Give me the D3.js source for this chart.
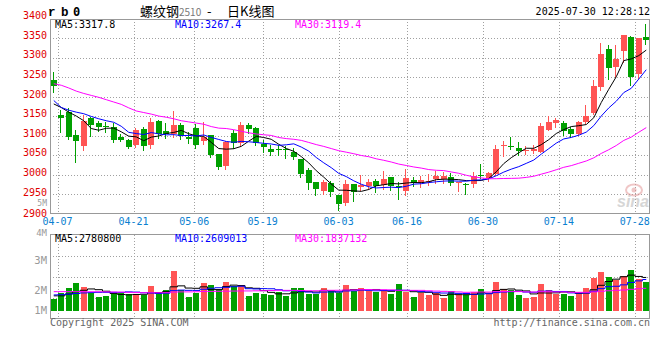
<!DOCTYPE html>
<html><head><meta charset="utf-8">
<script src="https://cdn.jsdelivr.net/npm/d3@7"></script>
<style>html,body{margin:0;padding:0;background:#fff;}svg{display:block;}</style>
</head><body>
<svg id="c" width="660" height="360"></svg>
<script>
// ---------------- data ----------------
const dates = ['04-03',
 '04-07','04-08','04-09','04-10','04-11','04-14','04-15','04-16','04-17','04-18',
 '04-21','04-22','04-23','04-24','04-25','04-28','04-29','04-30',
 '05-06','05-07','05-08','05-09','05-12','05-13','05-14','05-15','05-16',
 '05-19','05-20','05-21','05-22','05-23','05-26','05-27','05-28','05-29','05-30',
 '06-03','06-04','06-05','06-06','06-09','06-10','06-11','06-12','06-13',
 '06-16','06-17','06-18','06-19','06-20','06-23','06-24','06-25','06-26','06-27',
 '06-30','07-01','07-02','07-03','07-04','07-07','07-08','07-09','07-10','07-11',
 '07-14','07-15','07-16','07-17','07-18','07-21','07-22','07-23','07-24','07-25',
 '07-28','07-29','07-30'];
const tickDates = ['04-07','04-21','05-06','05-19','06-03','06-16','06-30','07-14','07-28'];
const priceTicks = [3400,3350,3300,3250,3200,3150,3100,3050,3000,2950,2900];
const volTickValues = [5,4,3,2,1];
const volTickLabels = ['5M','4M','3M','2M','1M'];

const open = [3242,3152,3160,3102,3073,3144,3131,3124,3122,3095,
 3088,3076,3118,3076,3137,3112,3105,3127,3097,3119,
 3086,3101,3052,3023,3107,3081,3127,3120,3078,3066,
 3065,3065,3058,3039,3011,2980,2957,2978,2947,2927,
 2975,2968,2971,2983,2972,2993,2971,2958,2986,2978,
 2982,2989,2989,2993,2979,2976,2975,2999,2992,3001,
 3075,3073,3069,3060,3061,3059,3114,3133,3133,3117,
 3104,3134,3157,3225,3321,3276,3317,3354,3257,3353];
const high = [3263,3165,3170,3114,3152,3148,3137,3136,3131,3105,
 3090,3119,3123,3146,3140,3133,3163,3131,3108,3129,
 3135,3102,3052,3085,3113,3135,3133,3121,3088,3077,
 3076,3074,3068,3040,3018,2981,2986,2984,2947,2987,
 2976,3000,2988,2989,3009,2994,2980,3013,2993,2996,
 3001,3009,3007,3005,2982,2978,3007,3026,3006,3075,
 3086,3095,3084,3074,3077,3133,3150,3144,3137,3123,
 3137,3178,3242,3337,3331,3331,3359,3355,3351,3385];
const low = [3211,3110,3090,3031,3064,3099,3112,3110,3084,3086,
 3068,3070,3063,3067,3093,3093,3095,3091,3082,3068,
 3078,3045,3015,3013,3067,3072,3106,3075,3058,3050,
 3050,3043,3041,2993,2964,2947,2949,2944,2909,2921,
 2933,2960,2962,2955,2964,2961,2937,2948,2971,2969,
 2974,2978,2979,2974,2959,2951,2969,2990,2983,2998,
 3048,3065,3050,3052,3054,3058,3113,3123,3101,3095,
 3102,3133,3154,3216,3246,3249,3289,3229,3248,3334];
const close = [3227,3144,3097,3085,3137,3127,3122,3122,3088,3089,
 3071,3113,3072,3135,3103,3103,3127,3098,3092,3075,
 3097,3050,3019,3084,3081,3127,3117,3080,3070,3058,
 3063,3063,3044,3002,2977,2963,2980,2956,2924,2975,
 2955,2974,2980,2971,2989,2971,2969,2991,2978,2986,
 2984,2995,2997,2978,2980,2972,2995,2998,3004,3066,
 3077,3071,3061,3062,3065,3124,3135,3140,3112,3104,
 3135,3150,3227,3308,3273,3296,3357,3249,3350,3344];
const ma5 = [3181,3172,3160,3150,3138,3118,3113.6,3118.6,3119.2,3109.6,
 3098.4,3096.6,3086.6,3096,3098.8,3105.2,3108,3113.2,3104.6,3099,
 3097.8,3082.4,3066.6,3065,3066.2,3072.2,3085.6,3097.8,3095,3090.4,
 3077.6,3066.8,3059.6,3046,3029.8,3009.8,2993.2,2975.6,2960,2959.6,
 2958,2956.8,2961.6,2971,2973.8,2977,2976,2978.2,2979.6,2979,
 2981.6,2986.8,2988,2988,2986.8,2984.4,2984.4,2984.6,2989.8,3007,
 3028,3043.2,3055.8,3067.4,3067.2,3076.6,3089.4,3105.2,3115.2,3123,
 3125.2,3128.2,3145.6,3184.8,3218.6,3250.8,3292.2,3296.6,3305,3319.2];
const ma10 = [3190,3172,3165,3160,3156,3149,3143,3138,3134,3123.8,
 3108.2,3105.1,3102.6,3107.6,3104.2,3101.8,3102.3,3099.9,3100.3,3098.9,
 3101.5,3095.2,3089.9,3084.8,3082.6,3085,3084,3082.2,3080,3078.3,
 3074.9,3076.2,3078.7,3070.5,3060.1,3043.7,3030,3017.6,3003,2994.7,
 2983.9,2975,2968.6,2965.5,2966.7,2967.5,2966.4,2969.9,2975.3,2976.4,
 2979.3,2981.4,2983.1,2983.8,2982.9,2983,2985.6,2986.3,2988.9,2996.9,
 3006.2,3013.8,3020.2,3028.6,3037.1,3052.3,3066.3,3080.5,3091.3,3095.1,
 3100.9,3108.8,3125.4,3150,3170.8,3188,3210.2,3221.1,3244.9,3268.9];
const ma30 = [3233,3229,3222,3214,3208,3203,3198,3192,3186,3180,
 3171,3163,3159,3155,3150,3147,3143,3138,3135,3132,
 3129,3123,3119,3118,3115,3111,3107,3104,3102,3100.3,
 3094.9,3092.2,3090.4,3087.6,3082.3,3076.8,3072.1,3066.6,3061.1,3057.3,
 3053.4,3048.8,3045.7,3040.3,3036.5,3032.1,3026.8,3023.2,3019.4,3016.5,
 3012.7,3010.9,3010.1,3006.6,3003.2,2998.1,2994,2991.3,2989.1,2989.3,
 2989.8,2990.1,2990.6,2992.6,2995.6,3000.9,3006.1,3012.2,3018.5,3022.8,
 3028.8,3034.7,3042.9,3054.1,3063.6,3074.4,3087.4,3096,3108.4,3120.3];
// volume in millions
const volume = [1.00,1.52,1.95,2.38,2.03,1.58,1.20,1.29,1.43,1.58,
 1.43,1.35,1.37,2.14,1.63,1.80,3.43,1.78,1.20,1.52,
 2.43,2.23,1.80,2.49,2.14,2.23,1.29,1.58,1.49,1.40,
 1.60,1.30,1.95,2.00,1.45,1.45,2.00,1.72,1.52,2.20,
 1.72,1.95,1.72,1.63,1.72,1.43,2.29,1.63,1.20,1.52,
 1.37,1.52,1.09,1.69,1.35,1.35,1.63,1.86,1.43,2.49,
 1.86,1.80,1.37,1.09,1.20,2.29,1.78,1.43,1.43,1.29,
 1.63,1.95,2.80,3.35,2.92,2.63,3.00,3.49,2.78,2.49];
const volMa5 = [1.30,1.30,1.45,1.65,1.776,1.892,1.828,1.696,1.506,1.416,
 1.386,1.416,1.432,1.574,1.584,1.658,2.074,2.156,1.968,1.946,
 2.072,1.832,1.836,2.094,2.218,2.178,1.99,1.946,1.746,1.598,
 1.472,1.474,1.548,1.65,1.66,1.63,1.77,1.724,1.628,1.778,
 1.832,1.822,1.822,1.844,1.748,1.69,1.758,1.74,1.654,1.614,
 1.602,1.448,1.34,1.438,1.404,1.40,1.422,1.576,1.524,1.752,
 1.854,1.888,1.79,1.722,1.464,1.55,1.546,1.558,1.626,1.644,
 1.512,1.546,1.82,2.204,2.53,2.73,2.94,3.078,2.964,2.878];
const volMa10 = [1.38,1.40,1.45,1.50,1.55,1.58,1.60,1.60,1.60,1.596,
 1.639,1.622,1.564,1.54,1.50,1.522,1.745,1.794,1.771,1.765,
 1.865,1.953,1.996,2.031,2.082,2.125,1.911,1.891,1.92,1.908,
 1.825,1.732,1.747,1.698,1.629,1.551,1.622,1.636,1.639,1.719,
 1.731,1.796,1.773,1.736,1.763,1.761,1.79,1.781,1.749,1.681,
 1.646,1.603,1.54,1.546,1.509,1.501,1.435,1.458,1.481,1.578,
 1.627,1.655,1.683,1.623,1.608,1.702,1.717,1.674,1.674,1.554,
 1.531,1.546,1.689,1.915,2.087,2.121,2.243,2.449,2.584,2.704];
const volMa30 = [1.66,1.66,1.66,1.66,1.66,1.65,1.65,1.64,1.63,1.62,
 1.60,1.58,1.57,1.57,1.57,1.57,1.62,1.64,1.64,1.65,
 1.67,1.68,1.69,1.70,1.71,1.72,1.72,1.73,1.74,1.756,
 1.776,1.769,1.769,1.756,1.737,1.733,1.759,1.774,1.777,1.797,
 1.807,1.827,1.839,1.822,1.825,1.812,1.774,1.769,1.769,1.769,
 1.734,1.710,1.687,1.66,1.634,1.604,1.616,1.625,1.623,1.659,
 1.668,1.685,1.665,1.635,1.627,1.655,1.647,1.638,1.635,1.604,
 1.601,1.601,1.637,1.695,1.735,1.775,1.798,1.860,1.913,1.945];

const priceMaLabels = ['MA5:3317.8','MA10:3267.4','MA30:3119.4'];
const volMaLabels = ['MA5:2780800','MA10:2609013','MA30:1837132'];

// ---------------- drawing ----------------
const RED = '#ff5454', GREEN = '#00a000', GRID = '#a0a0a0', FRAME = '#999999';
const MA_COLORS = ['#000000', '#0000ff', '#ff00ff'];
const mono = "'DejaVu Sans Mono', monospace";
const svg = d3.select('#c');
svg.append('rect').attr('width', 660).attr('height', 360).attr('fill', '#fff');

const L = 50, R = 650;
const PT = 19, PB = 213.5;
const VT = 234.5, VB = 318.5;

const xBand = d3.scaleBand().domain(dates).range([L, R]).paddingInner(0.2).paddingOuter(0.1);
const xGrid = d3.scalePoint().domain(dates).range([L, R]);
const y = d3.scaleLinear().domain([2900, 3400]).range([PB, 18.6]);
const yLab = d3.scaleLinear().domain([2900, 2950, 3400]).range([217.2, 195.6, 19.2]);
const yV = d3.scaleLinear().domain([0, 1]).range([311, 311 - 11.66]);
const yVLabel = d3.scaleLinear().domain([1, 2, 3, 4, 5]).range([314.2, 294, 263.9, 235.5, 205.6]);
const vGrid = d3.scaleLinear().domain([0, 4]).range([VB, VT]);
const bw = Math.round(xBand.bandwidth());
const cx = d => Math.round(xBand(d));
const snap = v => Math.round(v) + 0.5;

// grid
const g = svg.append('g').attr('stroke', GRID).attr('stroke-dasharray', '1,2').attr('shape-rendering', 'crispEdges');
g.selectAll('.hp').data(priceTicks.filter(t => t > 2900 && t < 3400)).join('line')
  .attr('x1', L).attr('x2', R).attr('y1', d => snap(y(d))).attr('y2', d => snap(y(d)));
g.selectAll('.vp').data(tickDates).join('line')
  .attr('x1', d => snap(xGrid(d))).attr('x2', d => snap(xGrid(d))).attr('y1', PT).attr('y2', PB);
g.selectAll('.hv').data([1, 2, 3]).join('line')
  .attr('x1', L).attr('x2', R).attr('y1', d => snap(vGrid(d))).attr('y2', d => snap(vGrid(d)));
g.selectAll('.vv').data(tickDates).join('line')
  .attr('x1', d => snap(xGrid(d))).attr('x2', d => snap(xGrid(d))).attr('y1', VT).attr('y2', VB);

// watermark
const wm = svg.append('g').attr('opacity', 0.55);
wm.append('ellipse').attr('cx', 634).attr('cy', 190).attr('rx', 8).attr('ry', 5.5)
  .attr('fill', 'none').attr('stroke', '#e59a9a').attr('stroke-width', 2);
wm.append('circle').attr('cx', 634).attr('cy', 190).attr('r', 2.5).attr('fill', '#e59a9a');
wm.append('text').attr('x', 617).attr('y', 207).attr('font-family', "'Liberation Sans', Arial, sans-serif")
  .attr('font-size', 16).attr('font-weight', 'bold').attr('font-style', 'italic').attr('fill', '#b5b5b5').text('sina');

// candles
const idx = d3.range(dates.length);
const cg = svg.append('g').attr('shape-rendering', 'crispEdges');
const col = i => close[i] >= open[i] ? RED : GREEN;
cg.selectAll('.wick').data(idx).join('line')
  .attr('x1', i => cx(dates[i]) + 2.5).attr('x2', i => cx(dates[i]) + 2.5)
  .attr('y1', i => Math.round(y(high[i]))).attr('y2', i => Math.round(y(low[i])) + 1)
  .attr('stroke', col);
cg.selectAll('.body').data(idx).join('rect')
  .attr('x', i => cx(dates[i])).attr('width', bw)
  .attr('y', i => Math.round(y(Math.max(open[i], close[i]))))
  .attr('height', i => Math.max(1, Math.round(y(Math.min(open[i], close[i]))) - Math.round(y(Math.max(open[i], close[i])))))
  .attr('fill', col);

// MA lines (price)
const center = i => xBand(dates[i]) + xBand.bandwidth() / 2;
[ma5, ma10, ma30].forEach((arr, k) => {
  svg.append('path').datum(arr)
    .attr('d', d3.line().x((d, i) => center(i)).y(d => y(d)))
    .attr('fill', 'none').attr('stroke', MA_COLORS[k]).attr('stroke-width', 1);
});

// volume bars
const vg = svg.append('g').attr('shape-rendering', 'crispEdges');
vg.selectAll('rect').data(idx).join('rect')
  .attr('x', i => cx(dates[i])).attr('width', bw)
  .attr('y', i => Math.round(yV(volume[i])))
  .attr('height', i => Math.round(yV(0)) - Math.round(yV(volume[i])))
  .attr('fill', col);
[volMa5, volMa10, volMa30].forEach((arr, k) => {
  svg.append('path').datum(arr)
    .attr('d', d3.line().curve(d3.curveStep).x((d, i) => center(i)).y(d => yV(d)))
    .attr('fill', 'none').attr('stroke', MA_COLORS[k]).attr('stroke-width', 1);
});

// frames
svg.append('rect').attr('x', L + 0.5).attr('y', PT + 0.5).attr('width', R - L - 1).attr('height', PB - PT - 0.5)
  .attr('fill', 'none').attr('stroke', FRAME).attr('shape-rendering', 'crispEdges');
svg.append('rect').attr('x', L + 0.5).attr('y', VT).attr('width', R - L - 1).attr('height', VB - VT)
  .attr('fill', 'none').attr('stroke', FRAME).attr('shape-rendering', 'crispEdges');

// price labels
svg.append('g').selectAll('text').data(priceTicks).join('text')
  .attr('x', 47).attr('y', d => yLab(d)).attr('text-anchor', 'end')
  .attr('font-family', mono).attr('font-size', 10).attr('fill', '#e00000').text(d => d);
// volume labels
svg.append('g').selectAll('text').data(volTickValues).join('text')
  .attr('x', 47).attr('y', d => yVLabel(d)).attr('text-anchor', 'end')
  .attr('font-family', mono).attr('font-size', d => d === 5 ? 8 : (d === 4 ? 9 : 10.5))
  .attr('fill', '#999').text((d, i) => volTickLabels[i]);
// date labels
svg.append('g').selectAll('text').data(tickDates).join('text')
  .attr('x', d => xGrid(d)).attr('y', 225).attr('text-anchor', 'middle')
  .attr('font-family', mono).attr('font-size', 10).attr('fill', '#0a80d0').text(d => d);

// MA legends
const legX = [55, 175, 295];
svg.append('g').selectAll('text').data(priceMaLabels).join('text')
  .attr('x', (d, i) => legX[i]).attr('y', 28).attr('font-family', mono).attr('font-size', 10)
  .attr('fill', (d, i) => MA_COLORS[i]).text(d => d);
svg.append('g').selectAll('text').data(volMaLabels).join('text')
  .attr('x', (d, i) => legX[i]).attr('y', 241.5).attr('font-family', mono).attr('font-size', 10)
  .attr('fill', (d, i) => MA_COLORS[i]).text(d => d);

// header
const hdr = svg.append('text').attr('y', 15.5).attr('font-weight', 'bold').attr('fill', '#000');
hdr.append('tspan').attr('x', 48).attr('font-family', "'Liberation Mono', monospace").attr('font-size', 12.5).text('r');
hdr.append('tspan').attr('x', 61).attr('font-family', "'Liberation Mono', monospace").attr('font-size', 12.5).text('b');
hdr.append('tspan').attr('x', 73).attr('font-family', mono).attr('font-size', 12).text('0');
const title = svg.append('text').attr('y', 15.5).attr('font-family', "'Noto Sans CJK SC', sans-serif").attr('font-size', 13).attr('fill', '#000');
title.append('tspan').attr('x', 140).text('螺纹钢');
title.append('tspan').attr('fill', '#777').attr('font-size', 10).text('2510');
title.append('tspan').attr('x', 207).text('-');
title.append('tspan').attr('x', 227).text('日K线图');
svg.append('text').attr('x', 650).attr('y', 15).attr('text-anchor', 'end').attr('font-family', mono)
  .attr('font-size', 10).attr('fill', '#000').text('2025-07-30 12:28:12');

// footer
svg.append('text').attr('x', 50).attr('y', 326).attr('font-family', mono).attr('font-size', 10)
  .attr('fill', '#666').text('Copyright 2025 SINA.COM');
svg.append('text').attr('x', 650).attr('y', 326).attr('text-anchor', 'end').attr('font-family', mono)
  .attr('font-size', 10).attr('fill', '#666').text('http://finance.sina.com.cn');
</script>
</body></html>
